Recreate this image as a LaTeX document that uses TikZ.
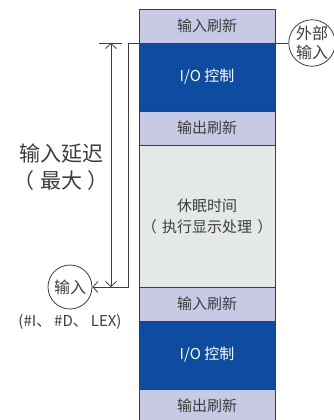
\documentclass[tikz,border=0pt]{standalone}
\usepackage{fontspec}
\setmainfont{Noto Sans CJK SC}
\usetikzlibrary{arrows.meta,positioning}
\definecolor{lavanda}{rgb}{0.78,0.79,0.90}
\definecolor{azulio}{rgb}{0.05,0.30,0.63}
\definecolor{grisclaro}{rgb}{0.90,0.91,0.91}
\definecolor{tinta}{rgb}{0.24,0.24,0.24}
\tikzset{
  refresco/.style={
    draw=tinta,
    line width=0.8pt,
    fill=lavanda,
    text=tinta,
    minimum width=136pt,
    minimum height=34pt,
    inner sep=0pt,
    outer sep=0pt,
    font=\fontsize{15}{18}\selectfont
  },
  control/.style={
    refresco,
    fill=azulio,
    text=white,
    minimum height=68pt
  },
  reposo/.style={
    refresco,
    fill=grisclaro,
    minimum height=142pt,
    align=center,
    font=\fontsize{15}{21}\selectfont
  },
  globo/.style={
    circle,
    draw=tinta,
    line width=0.8pt,
    fill=white,
    text=tinta,
    minimum size=44pt,
    inner sep=0pt,
    align=center,
    font=\fontsize{16}{19}\selectfont
  },
  senal/.style={
    draw=tinta,
    line width=0.8pt
  },
  punta/.tip={Straight Barb[length=5pt,width=11pt]}
}

\begin{document}
\begin{tikzpicture}[x=1pt,y=-1pt]
\useasboundingbox (0,0) rectangle (334,420);
\clip (0,0) rectangle (334,420);
% ciclo de barrido
\node[refresco] (in1) at (207,26) {输入刷新};
\node[control,below=0pt of in1] (io1) {I/O 控制};
\node[refresco,below=0pt of io1] (out1) {输出刷新};
\node[reposo,below=0pt of out1] (sleep) {休眠时间\\（\hspace{0.35em}执行显示处理\hspace{0.35em}）};
\node[refresco,below=0pt of sleep] (in2) {输入刷新};
\node[control,below=0pt of in2] (io2) {I/O 控制};
\node[refresco,below=0pt of io2] (out2) {输出刷新};
% entradas
\node[globo] (ext) at (312,43) {外部\\输入};
\node[globo] (ent) at (70,287) {输入};
\node[text=tinta,font=\fontsize{15}{18}\selectfont,below=1pt of ent] (tipos) {(\#I、\hspace{0.2em}\#D、\hspace{0.2em}LEX)};
\node[text=tinta,font=\fontsize{21}{27}\selectfont,align=center] (retardo) at (61,167) {输入延迟\\（\hspace{0.25em}最大\hspace{0.25em}）};
\coordinate (codo) at (128,43);
\draw[senal,-punta] (ext) -- (codo) |- (ent);
% cota
\coordinate (cota-sup) at (111,43);
\coordinate (cota-inf) at (111,287);
\draw[senal] (99,43) -- (122,43);
\draw[senal,punta-punta] (cota-sup) -- (cota-inf);
\end{tikzpicture}
\end{document}
